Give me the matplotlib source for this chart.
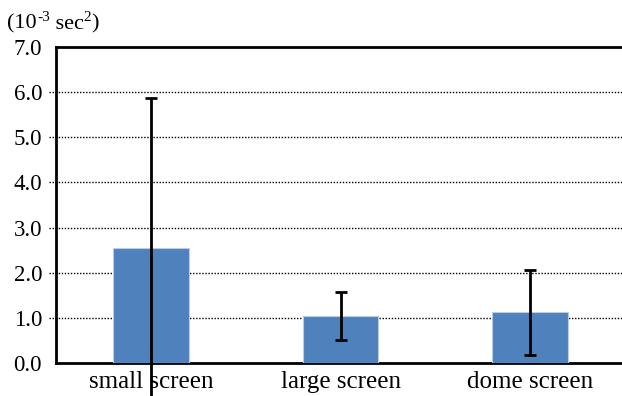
import matplotlib.pyplot as plt

plt.rcParams['font.family'] = ['Liberation Serif', 'DejaVu Serif']

# Mean values and error half-widths per condition
conditions = ['small screen', 'large screen', 'dome screen']
means = [2.54, 1.04, 1.12]
errors = [3.34, 0.54, 0.95]
y_ticks = [0, 1, 2, 3, 4, 5, 6, 7]

fig = plt.figure(figsize=(6.22, 3.96), dpi=100)
ax = fig.add_axes([0.09, 0.0833, 0.915, 0.798])

x = range(len(conditions))
ax.bar(x, means, width=0.4, color='#4F81BD', edgecolor='#B9CDE5',
       linewidth=0.8, zorder=3)
ax.errorbar(x, means, yerr=errors, fmt='none', ecolor='black',
            elinewidth=2, capsize=4, capthick=2, zorder=4, clip_on=False)

# dotted grid, poking slightly past the left spine
for t in y_ticks[1:-1]:
    ax.axhline(t, xmin=-0.013, xmax=1, color='black', linestyle=(0, (1, 1.2)),
               linewidth=1, zorder=1, clip_on=False)

ax.set_xlim(-0.5, 2.5)
ax.set_ylim(0, 7)
ax.set_yticks(y_ticks)
ax.set_yticklabels([f"{t:.1f}" for t in y_ticks])
ax.set_xticks(list(x))
ax.set_xticklabels(conditions)
ax.tick_params(axis='both', length=0, colors='black')
ax.tick_params(axis='y', pad=10, labelsize=16.5)
ax.tick_params(axis='x', pad=6, labelsize=18)

for side in ['left', 'bottom', 'top']:
    ax.spines[side].set_linewidth(2)
    ax.spines[side].set_color('black')
ax.spines['right'].set_visible(False)

# unit label with plain-hyphen superscripts, pieced together
r = fig.canvas.get_renderer()
W = fig.bbox.width
pieces = [("(10", 16, 0.0), ("-3", 11, 0.018), (" sec", 16, 0.0),
          ("2", 11, 0.018), (")", 16, 0.0)]
xpos = 0.012
for s, size, dy in pieces:
    t = fig.text(xpos, 0.928 + dy, s, fontsize=size, ha='left', va='baseline')
    xpos = t.get_window_extent(r).x1 / W

fig.savefig('out.png', dpi=100)
